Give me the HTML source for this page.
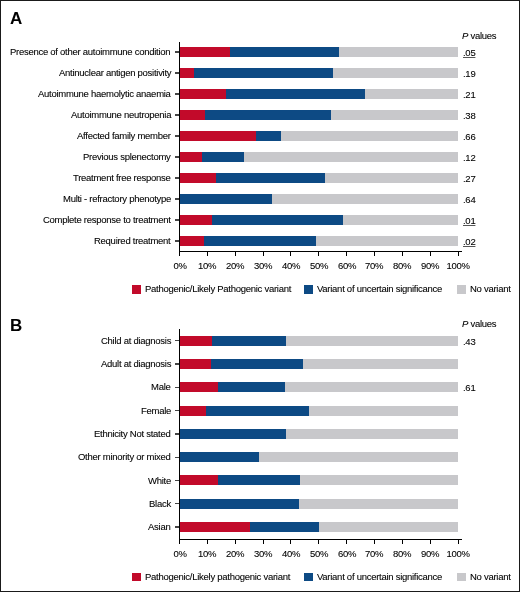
<!DOCTYPE html>
<html><head><meta charset="utf-8"><style>
html,body{margin:0;padding:0;background:#fff}
body{width:520px;height:592px;position:relative;overflow:hidden}
.frame{position:absolute;left:0;top:0;width:518px;height:590px;border:1px solid #1a1a1a}
.r{position:absolute}
.t{position:absolute;will-change:transform;font-family:"Liberation Sans",sans-serif;font-size:9.5px;line-height:9px;letter-spacing:-0.27px;color:#000000;-webkit-text-stroke:0.15px rgba(0,0,0,0.6);white-space:nowrap}
.L{position:absolute;will-change:transform;font-family:"Liberation Sans",sans-serif;font-size:17px;font-weight:bold;line-height:16px;color:#000}
</style></head><body>
<div class="frame"></div>
<div class="L" style="left:10px;top:11.00px">A</div>
<div class="r" style="left:180.20px;top:47.15px;width:277.80px;height:9.50px;background:#c8c8cb"></div>
<div class="r" style="left:180.20px;top:47.15px;width:159.00px;height:9.50px;background:#0d4a84"></div>
<div class="r" style="left:180.20px;top:47.15px;width:49.60px;height:9.50px;background:#c20a2a"></div>
<div class="r" style="left:175.00px;top:51.20px;width:4.30px;height:1.40px;background:#444"></div>
<div class="t" style="right:349.20px;top:47.01px;">Presence of other autoimmune condition</div>
<div class="t" style="left:462.50px;top:48.01px;text-decoration:underline;text-underline-offset:1px;text-decoration-thickness:0.5px;text-decoration-color:#555">.05</div>
<div class="r" style="left:180.20px;top:68.15px;width:277.80px;height:9.50px;background:#c8c8cb"></div>
<div class="r" style="left:180.20px;top:68.15px;width:152.70px;height:9.50px;background:#0d4a84"></div>
<div class="r" style="left:180.20px;top:68.15px;width:13.50px;height:9.50px;background:#c20a2a"></div>
<div class="r" style="left:175.00px;top:72.20px;width:4.30px;height:1.40px;background:#444"></div>
<div class="t" style="right:349.20px;top:68.01px;">Antinuclear antigen positivity</div>
<div class="t" style="left:462.50px;top:69.01px;">.19</div>
<div class="r" style="left:180.20px;top:89.15px;width:277.80px;height:9.50px;background:#c8c8cb"></div>
<div class="r" style="left:180.20px;top:89.15px;width:185.30px;height:9.50px;background:#0d4a84"></div>
<div class="r" style="left:180.20px;top:89.15px;width:46.30px;height:9.50px;background:#c20a2a"></div>
<div class="r" style="left:175.00px;top:93.20px;width:4.30px;height:1.40px;background:#444"></div>
<div class="t" style="right:349.20px;top:89.01px;">Autoimmune haemolytic anaemia</div>
<div class="t" style="left:462.50px;top:90.01px;">.21</div>
<div class="r" style="left:180.20px;top:110.15px;width:277.80px;height:9.50px;background:#c8c8cb"></div>
<div class="r" style="left:180.20px;top:110.15px;width:151.30px;height:9.50px;background:#0d4a84"></div>
<div class="r" style="left:180.20px;top:110.15px;width:24.60px;height:9.50px;background:#c20a2a"></div>
<div class="r" style="left:175.00px;top:114.20px;width:4.30px;height:1.40px;background:#444"></div>
<div class="t" style="right:349.20px;top:110.01px;">Autoimmune neutropenia</div>
<div class="t" style="left:462.50px;top:111.01px;">.38</div>
<div class="r" style="left:180.20px;top:131.15px;width:277.80px;height:9.50px;background:#c8c8cb"></div>
<div class="r" style="left:180.20px;top:131.15px;width:100.60px;height:9.50px;background:#0d4a84"></div>
<div class="r" style="left:180.20px;top:131.15px;width:75.70px;height:9.50px;background:#c20a2a"></div>
<div class="r" style="left:175.00px;top:135.20px;width:4.30px;height:1.40px;background:#444"></div>
<div class="t" style="right:349.20px;top:131.01px;">Affected family member</div>
<div class="t" style="left:462.50px;top:132.01px;">.66</div>
<div class="r" style="left:180.20px;top:152.15px;width:277.80px;height:9.50px;background:#c8c8cb"></div>
<div class="r" style="left:180.20px;top:152.15px;width:63.60px;height:9.50px;background:#0d4a84"></div>
<div class="r" style="left:180.20px;top:152.15px;width:21.60px;height:9.50px;background:#c20a2a"></div>
<div class="r" style="left:175.00px;top:156.20px;width:4.30px;height:1.40px;background:#444"></div>
<div class="t" style="right:349.20px;top:152.01px;">Previous splenectomy</div>
<div class="t" style="left:462.50px;top:153.01px;">.12</div>
<div class="r" style="left:180.20px;top:173.15px;width:277.80px;height:9.50px;background:#c8c8cb"></div>
<div class="r" style="left:180.20px;top:173.15px;width:144.90px;height:9.50px;background:#0d4a84"></div>
<div class="r" style="left:180.20px;top:173.15px;width:35.90px;height:9.50px;background:#c20a2a"></div>
<div class="r" style="left:175.00px;top:177.20px;width:4.30px;height:1.40px;background:#444"></div>
<div class="t" style="right:349.20px;top:173.01px;">Treatment free response</div>
<div class="t" style="left:462.50px;top:174.01px;">.27</div>
<div class="r" style="left:180.20px;top:194.15px;width:277.80px;height:9.50px;background:#c8c8cb"></div>
<div class="r" style="left:180.20px;top:194.15px;width:91.90px;height:9.50px;background:#0d4a84"></div>
<div class="r" style="left:175.00px;top:198.20px;width:4.30px;height:1.40px;background:#444"></div>
<div class="t" style="right:349.20px;top:194.01px;">Multi - refractory phenotype</div>
<div class="t" style="left:462.50px;top:195.01px;">.64</div>
<div class="r" style="left:180.20px;top:215.15px;width:277.80px;height:9.50px;background:#c8c8cb"></div>
<div class="r" style="left:180.20px;top:215.15px;width:162.90px;height:9.50px;background:#0d4a84"></div>
<div class="r" style="left:180.20px;top:215.15px;width:31.70px;height:9.50px;background:#c20a2a"></div>
<div class="r" style="left:175.00px;top:219.20px;width:4.30px;height:1.40px;background:#444"></div>
<div class="t" style="right:349.20px;top:215.01px;">Complete response to treatment</div>
<div class="t" style="left:462.50px;top:216.01px;text-decoration:underline;text-underline-offset:1px;text-decoration-thickness:0.5px;text-decoration-color:#555">.01</div>
<div class="r" style="left:180.20px;top:236.15px;width:277.80px;height:9.50px;background:#c8c8cb"></div>
<div class="r" style="left:180.20px;top:236.15px;width:136.00px;height:9.50px;background:#0d4a84"></div>
<div class="r" style="left:180.20px;top:236.15px;width:23.40px;height:9.50px;background:#c20a2a"></div>
<div class="r" style="left:175.00px;top:240.20px;width:4.30px;height:1.40px;background:#444"></div>
<div class="t" style="right:349.20px;top:236.01px;">Required treatment</div>
<div class="t" style="left:462.50px;top:237.01px;text-decoration:underline;text-underline-offset:1px;text-decoration-thickness:0.5px;text-decoration-color:#555">.02</div>
<div class="t" style="left:462.00px;top:31.31px;"><i>P</i> values</div>
<div class="r" style="left:178.80px;top:41.50px;width:1.40px;height:210.40px;background:#000"></div>
<div class="r" style="left:178.80px;top:250.50px;width:283.70px;height:1.40px;background:#000"></div>
<div class="r" style="left:179.00px;top:251.20px;width:1.00px;height:5.00px;background:#000"></div>
<div class="t" style="left:129.50px;width:100px;text-align:center;top:260.61px;">0%</div>
<div class="r" style="left:206.85px;top:251.20px;width:1.00px;height:5.00px;background:#000"></div>
<div class="t" style="left:157.35px;width:100px;text-align:center;top:260.61px;">10%</div>
<div class="r" style="left:234.70px;top:251.20px;width:1.00px;height:5.00px;background:#000"></div>
<div class="t" style="left:185.20px;width:100px;text-align:center;top:260.61px;">20%</div>
<div class="r" style="left:262.55px;top:251.20px;width:1.00px;height:5.00px;background:#000"></div>
<div class="t" style="left:213.05px;width:100px;text-align:center;top:260.61px;">30%</div>
<div class="r" style="left:290.40px;top:251.20px;width:1.00px;height:5.00px;background:#000"></div>
<div class="t" style="left:240.90px;width:100px;text-align:center;top:260.61px;">40%</div>
<div class="r" style="left:318.25px;top:251.20px;width:1.00px;height:5.00px;background:#000"></div>
<div class="t" style="left:268.75px;width:100px;text-align:center;top:260.61px;">50%</div>
<div class="r" style="left:346.10px;top:251.20px;width:1.00px;height:5.00px;background:#000"></div>
<div class="t" style="left:296.60px;width:100px;text-align:center;top:260.61px;">60%</div>
<div class="r" style="left:373.95px;top:251.20px;width:1.00px;height:5.00px;background:#000"></div>
<div class="t" style="left:324.45px;width:100px;text-align:center;top:260.61px;">70%</div>
<div class="r" style="left:401.80px;top:251.20px;width:1.00px;height:5.00px;background:#000"></div>
<div class="t" style="left:352.30px;width:100px;text-align:center;top:260.61px;">80%</div>
<div class="r" style="left:429.65px;top:251.20px;width:1.00px;height:5.00px;background:#000"></div>
<div class="t" style="left:380.15px;width:100px;text-align:center;top:260.61px;">90%</div>
<div class="r" style="left:457.50px;top:251.20px;width:1.00px;height:5.00px;background:#000"></div>
<div class="t" style="left:408.00px;width:100px;text-align:center;top:260.61px;">100%</div>
<div class="r" style="left:131.50px;top:285.00px;width:9.00px;height:8.60px;background:#c20a2a"></div>
<div class="t" style="left:145.20px;top:283.91px;">Pathogenic/Likely Pathogenic variant</div>
<div class="r" style="left:304.20px;top:285.00px;width:8.60px;height:8.60px;background:#0d4a84"></div>
<div class="t" style="left:317.20px;top:283.91px;">Variant of uncertain significance</div>
<div class="r" style="left:456.90px;top:285.00px;width:8.90px;height:8.60px;background:#c8c8cb"></div>
<div class="t" style="left:470.00px;top:283.91px;">No variant</div>
<div class="L" style="left:10px;top:318.00px">B</div>
<div class="r" style="left:180.20px;top:335.80px;width:277.80px;height:10.00px;background:#c8c8cb"></div>
<div class="r" style="left:180.20px;top:335.80px;width:106.00px;height:10.00px;background:#0d4a84"></div>
<div class="r" style="left:180.20px;top:335.80px;width:31.80px;height:10.00px;background:#c20a2a"></div>
<div class="r" style="left:175.00px;top:340.10px;width:4.30px;height:1.40px;background:#444"></div>
<div class="t" style="right:349.20px;top:335.91px;">Child at diagnosis</div>
<div class="t" style="left:462.50px;top:336.91px;">.43</div>
<div class="r" style="left:180.20px;top:359.08px;width:277.80px;height:10.00px;background:#c8c8cb"></div>
<div class="r" style="left:180.20px;top:359.08px;width:122.90px;height:10.00px;background:#0d4a84"></div>
<div class="r" style="left:180.20px;top:359.08px;width:30.40px;height:10.00px;background:#c20a2a"></div>
<div class="r" style="left:175.00px;top:363.38px;width:4.30px;height:1.40px;background:#444"></div>
<div class="t" style="right:349.20px;top:359.19px;">Adult at diagnosis</div>
<div class="r" style="left:180.20px;top:382.36px;width:277.80px;height:10.00px;background:#c8c8cb"></div>
<div class="r" style="left:180.20px;top:382.36px;width:104.60px;height:10.00px;background:#0d4a84"></div>
<div class="r" style="left:180.20px;top:382.36px;width:37.50px;height:10.00px;background:#c20a2a"></div>
<div class="r" style="left:175.00px;top:386.66px;width:4.30px;height:1.40px;background:#444"></div>
<div class="t" style="right:349.20px;top:382.47px;">Male</div>
<div class="t" style="left:462.50px;top:383.47px;">.61</div>
<div class="r" style="left:180.20px;top:405.64px;width:277.80px;height:10.00px;background:#c8c8cb"></div>
<div class="r" style="left:180.20px;top:405.64px;width:128.70px;height:10.00px;background:#0d4a84"></div>
<div class="r" style="left:180.20px;top:405.64px;width:25.70px;height:10.00px;background:#c20a2a"></div>
<div class="r" style="left:175.00px;top:409.94px;width:4.30px;height:1.40px;background:#444"></div>
<div class="t" style="right:349.20px;top:405.75px;">Female</div>
<div class="r" style="left:180.20px;top:428.92px;width:277.80px;height:10.00px;background:#c8c8cb"></div>
<div class="r" style="left:180.20px;top:428.92px;width:106.00px;height:10.00px;background:#0d4a84"></div>
<div class="r" style="left:175.00px;top:433.22px;width:4.30px;height:1.40px;background:#444"></div>
<div class="t" style="right:349.20px;top:429.03px;">Ethnicity Not stated</div>
<div class="r" style="left:180.20px;top:452.20px;width:277.80px;height:10.00px;background:#c8c8cb"></div>
<div class="r" style="left:180.20px;top:452.20px;width:79.00px;height:10.00px;background:#0d4a84"></div>
<div class="r" style="left:175.00px;top:456.50px;width:4.30px;height:1.40px;background:#444"></div>
<div class="t" style="right:349.20px;top:452.31px;">Other minority or mixed</div>
<div class="r" style="left:180.20px;top:475.48px;width:277.80px;height:10.00px;background:#c8c8cb"></div>
<div class="r" style="left:180.20px;top:475.48px;width:119.70px;height:10.00px;background:#0d4a84"></div>
<div class="r" style="left:180.20px;top:475.48px;width:37.40px;height:10.00px;background:#c20a2a"></div>
<div class="r" style="left:175.00px;top:479.78px;width:4.30px;height:1.40px;background:#444"></div>
<div class="t" style="right:349.20px;top:475.59px;">White</div>
<div class="r" style="left:180.20px;top:498.76px;width:277.80px;height:10.00px;background:#c8c8cb"></div>
<div class="r" style="left:180.20px;top:498.76px;width:118.50px;height:10.00px;background:#0d4a84"></div>
<div class="r" style="left:175.00px;top:503.06px;width:4.30px;height:1.40px;background:#444"></div>
<div class="t" style="right:349.20px;top:498.87px;">Black</div>
<div class="r" style="left:180.20px;top:522.04px;width:277.80px;height:10.00px;background:#c8c8cb"></div>
<div class="r" style="left:180.20px;top:522.04px;width:138.50px;height:10.00px;background:#0d4a84"></div>
<div class="r" style="left:180.20px;top:522.04px;width:69.60px;height:10.00px;background:#c20a2a"></div>
<div class="r" style="left:175.00px;top:526.34px;width:4.30px;height:1.40px;background:#444"></div>
<div class="t" style="right:349.20px;top:522.15px;">Asian</div>
<div class="t" style="left:462.00px;top:318.61px;"><i>P</i> values</div>
<div class="r" style="left:178.80px;top:329.00px;width:1.40px;height:211.00px;background:#000"></div>
<div class="r" style="left:178.80px;top:538.60px;width:283.70px;height:1.40px;background:#000"></div>
<div class="r" style="left:179.00px;top:539.30px;width:1.00px;height:5.00px;background:#000"></div>
<div class="t" style="left:129.50px;width:100px;text-align:center;top:548.61px;">0%</div>
<div class="r" style="left:206.85px;top:539.30px;width:1.00px;height:5.00px;background:#000"></div>
<div class="t" style="left:157.35px;width:100px;text-align:center;top:548.61px;">10%</div>
<div class="r" style="left:234.70px;top:539.30px;width:1.00px;height:5.00px;background:#000"></div>
<div class="t" style="left:185.20px;width:100px;text-align:center;top:548.61px;">20%</div>
<div class="r" style="left:262.55px;top:539.30px;width:1.00px;height:5.00px;background:#000"></div>
<div class="t" style="left:213.05px;width:100px;text-align:center;top:548.61px;">30%</div>
<div class="r" style="left:290.40px;top:539.30px;width:1.00px;height:5.00px;background:#000"></div>
<div class="t" style="left:240.90px;width:100px;text-align:center;top:548.61px;">40%</div>
<div class="r" style="left:318.25px;top:539.30px;width:1.00px;height:5.00px;background:#000"></div>
<div class="t" style="left:268.75px;width:100px;text-align:center;top:548.61px;">50%</div>
<div class="r" style="left:346.10px;top:539.30px;width:1.00px;height:5.00px;background:#000"></div>
<div class="t" style="left:296.60px;width:100px;text-align:center;top:548.61px;">60%</div>
<div class="r" style="left:373.95px;top:539.30px;width:1.00px;height:5.00px;background:#000"></div>
<div class="t" style="left:324.45px;width:100px;text-align:center;top:548.61px;">70%</div>
<div class="r" style="left:401.80px;top:539.30px;width:1.00px;height:5.00px;background:#000"></div>
<div class="t" style="left:352.30px;width:100px;text-align:center;top:548.61px;">80%</div>
<div class="r" style="left:429.65px;top:539.30px;width:1.00px;height:5.00px;background:#000"></div>
<div class="t" style="left:380.15px;width:100px;text-align:center;top:548.61px;">90%</div>
<div class="r" style="left:457.50px;top:539.30px;width:1.00px;height:5.00px;background:#000"></div>
<div class="t" style="left:408.00px;width:100px;text-align:center;top:548.61px;">100%</div>
<div class="r" style="left:131.50px;top:572.60px;width:9.00px;height:8.60px;background:#c20a2a"></div>
<div class="t" style="left:145.20px;top:572.11px;">Pathogenic/Likely pathogenic variant</div>
<div class="r" style="left:304.20px;top:572.60px;width:8.60px;height:8.60px;background:#0d4a84"></div>
<div class="t" style="left:317.20px;top:572.11px;">Variant of uncertain significance</div>
<div class="r" style="left:456.90px;top:572.60px;width:8.90px;height:8.60px;background:#c8c8cb"></div>
<div class="t" style="left:470.00px;top:572.11px;">No variant</div>
</body></html>
